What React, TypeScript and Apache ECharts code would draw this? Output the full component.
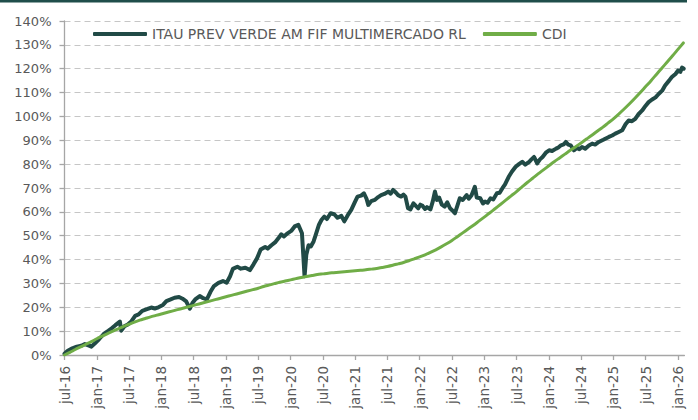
import React, { useEffect, useRef } from "react";
import * as echarts from "echarts";

const xTickLabels = [
  "jul-16", "jan-17", "jul-17", "jan-18", "jul-18", "jan-19", "jul-19", "jan-20", "jul-20", "jan-21",
  "jul-21", "jan-22", "jul-22", "jan-23", "jul-23", "jan-24", "jul-24", "jan-25", "jul-25", "jan-26",
];

const seriesNames = ["ITAU PREV VERDE AM FIF MULTIMERCADO RL", "CDI"];

const fundDates = [
  "2016-07-01", "2016-07-20", "2016-08-15", "2016-09-10", "2016-10-05", "2016-10-25", "2016-11-15", "2016-12-01", "2016-12-20",
  "2017-01-15", "2017-02-10", "2017-03-05", "2017-03-25", "2017-04-15", "2017-05-10", "2017-05-18", "2017-06-05", "2017-06-25",
  "2017-07-15", "2017-08-05", "2017-08-25", "2017-09-15", "2017-10-15", "2017-11-05", "2017-11-25", "2017-12-15",
  "2018-01-10", "2018-01-30", "2018-02-20", "2018-03-15", "2018-04-10", "2018-04-30", "2018-05-20", "2018-06-10", "2018-06-25",
  "2018-07-10", "2018-08-05", "2018-08-25", "2018-09-15", "2018-10-05", "2018-10-25", "2018-11-20", "2018-12-15",
  "2019-01-05", "2019-01-25", "2019-02-10", "2019-03-05", "2019-03-25", "2019-04-20", "2019-05-15", "2019-06-05", "2019-06-25",
  "2019-07-15", "2019-08-10", "2019-08-25", "2019-09-15", "2019-10-05", "2019-10-25", "2019-11-10", "2019-11-25", "2019-12-15",
  "2020-01-05", "2020-01-25", "2020-02-15", "2020-03-05", "2020-03-20", "2020-03-30", "2020-04-12", "2020-04-25", "2020-05-10",
  "2020-05-25", "2020-06-10", "2020-06-25", "2020-07-10", "2020-07-25", "2020-08-15", "2020-09-05", "2020-09-24", "2020-10-15",
  "2020-11-01", "2020-11-20", "2020-12-10", "2020-12-30",
  "2021-01-15", "2021-02-05", "2021-02-21", "2021-03-05", "2021-03-15", "2021-04-01", "2021-04-21", "2021-05-10", "2021-05-27",
  "2021-06-15", "2021-07-06", "2021-07-20", "2021-08-03", "2021-08-20", "2021-09-01", "2021-09-18", "2021-10-01", "2021-10-12",
  "2021-10-27", "2021-11-10", "2021-11-27", "2021-12-10", "2021-12-24",
  "2022-01-05", "2022-01-18", "2022-02-01", "2022-02-12", "2022-03-01", "2022-03-15", "2022-03-27", "2022-04-08", "2022-04-20",
  "2022-05-05", "2022-05-21", "2022-06-05", "2022-06-21", "2022-07-05", "2022-07-18", "2022-08-01", "2022-08-15", "2022-09-01",
  "2022-09-24", "2022-10-05", "2022-10-21", "2022-11-09", "2022-11-20", "2022-12-09", "2022-12-25",
  "2023-01-06", "2023-01-20", "2023-02-06", "2023-02-22", "2023-03-12", "2023-03-28", "2023-04-12", "2023-04-28", "2023-05-18",
  "2023-06-05", "2023-06-27", "2023-07-15", "2023-08-03", "2023-08-20", "2023-09-12", "2023-09-25", "2023-10-09", "2023-10-27",
  "2023-11-12", "2023-11-27", "2023-12-15",
  "2024-01-03", "2024-01-20", "2024-02-12", "2024-02-25", "2024-03-09", "2024-03-25", "2024-04-06", "2024-04-20", "2024-05-03",
  "2024-05-21", "2024-06-08", "2024-06-22", "2024-07-06", "2024-07-25", "2024-08-15", "2024-09-03", "2024-09-20", "2024-10-10",
  "2024-11-05", "2024-12-06", "2024-12-25",
  "2025-01-12", "2025-02-01", "2025-02-21", "2025-03-10", "2025-03-27", "2025-04-15", "2025-05-03", "2025-05-20", "2025-06-12",
  "2025-07-01", "2025-07-18", "2025-08-05", "2025-08-27", "2025-09-15", "2025-10-03", "2025-10-20", "2025-11-12", "2025-11-28",
  "2025-12-18", "2026-01-01", "2026-01-15", "2026-01-25", "2026-02-03",
];

const fundValues = [
  0.5, 1.8, 2.8, 3.5, 3.9, 4.6, 4.0, 3.5, 4.8,
  6.7, 8.8, 10.1, 11.2, 12.5, 14.0, 10.2, 12.0, 12.8,
  14.2, 16.4, 17.0, 18.5, 19.3, 19.9, 19.5, 20.0,
  21.0, 22.6, 23.2, 24.0, 24.3, 23.6, 22.5, 19.4, 21.8,
  23.3, 24.7, 23.8, 23.3, 26.5, 28.9, 30.2, 31.0,
  30.3, 33.0, 36.1, 37.0, 36.2, 36.6, 35.6, 38.0, 40.5,
  44.2, 45.3, 44.6, 46.0, 47.2, 49.0, 50.6, 49.7, 51.0,
  52.0, 53.9, 54.6, 51.0, 33.0, 42.0, 46.0, 45.5, 47.6,
  51.0, 54.6, 56.7, 58.0, 57.0, 59.4, 59.0, 57.5, 58.3,
  56.0, 58.5, 60.8, 64.0,
  66.4, 66.8, 67.8, 65.5, 62.9, 64.5, 65.0, 66.2, 67.0,
  67.5, 68.5, 67.6, 69.2, 68.0, 67.0, 66.4, 67.2, 66.4,
  61.5, 61.0, 63.6, 62.5, 61.5,
  63.0, 62.5, 61.2, 62.0, 61.0, 64.5, 68.5, 65.0, 66.0,
  63.0, 62.2, 64.0, 61.5, 60.5, 59.4, 62.5, 65.7, 65.0,
  67.0, 65.5, 67.0, 70.5, 66.0, 65.7, 63.5,
  64.3, 63.8, 65.7, 65.2, 67.8, 68.0, 69.8, 71.5, 74.7,
  76.8, 78.9, 80.0, 81.0, 79.8, 81.0, 82.0, 83.0, 80.3,
  82.0, 83.0, 84.8,
  85.8, 85.5, 86.5, 87.0, 87.9, 88.3, 89.3, 88.2, 87.9,
  85.8, 86.8, 86.3, 87.2, 86.5, 87.8, 88.6, 88.2, 89.3,
  90.2, 91.4, 92.0,
  92.8, 93.5, 94.2, 96.8, 98.3, 98.0, 99.0, 100.8, 102.5,
  104.5, 106.0, 107.0, 108.0, 109.5, 110.8, 113.0, 115.0, 116.5,
  117.8, 119.2, 118.7, 120.5, 120.0,
];

// CDI, one value per month from jul-16 to feb-26
const cdiStartMonth = "2016-07-01";
const cdiValues = [
  0, 1.1, 2.3, 3.4, 4.5, 5.6,
  6.8, 7.9, 9.0, 10.0, 11.0, 12.0, 12.9, 13.8, 14.6, 15.3, 16.0, 16.6,
  17.2, 17.8, 18.4, 19.0, 19.6, 20.2, 20.8, 21.4, 22.0, 22.6, 23.2, 23.8,
  24.4, 25.0, 25.6, 26.2, 26.8, 27.4, 28.0, 28.7, 29.3, 29.9, 30.5, 31.0,
  31.5, 32.0, 32.5, 32.9, 33.3, 33.7, 34.0, 34.3, 34.5, 34.7, 34.9, 35.1,
  35.3, 35.5, 35.7, 36.0, 36.3, 36.7, 37.1, 37.6, 38.2, 38.8, 39.5, 40.3,
  41.1, 42.0, 43.0, 44.1, 45.3, 46.6, 48.0, 49.6, 51.2, 52.8, 54.4, 56.1,
  57.8, 59.5, 61.3, 63.1, 64.9, 66.7, 68.5, 70.4, 72.3, 74.1, 75.9, 77.6,
  79.3, 81.0, 82.6, 84.2, 85.8, 87.3, 88.9, 90.5, 92.1, 93.8, 95.4, 97.2,
  99.0, 101.0, 103.1, 105.3, 107.6, 110.0, 112.5, 115.0, 117.6, 120.2, 122.8, 125.4,
  128.1, 130.8,
];

const FONT = "'DejaVu Sans', sans-serif";
const TEXT_COLOR = "#595959";
const AXIS_COLOR = "#a6a6a6";

// months elapsed since jul-16 (axis coordinate)
function monthOffset(d: string): number {
  const [y, m, dd] = d.split("-").map(Number);
  return (y - 2016) * 12 + (m - 7) + (dd - 1) / 31;
}

export default function App() {
  const ref = useRef<HTMLDivElement>(null);

  useEffect(() => {
    const chart = echarts.init(ref.current!, null, { renderer: "svg" });
    const start = monthOffset(cdiStartMonth);
    const tickVals = xTickLabels.map((_, i) => start + i * 6);
    const fundData = fundDates.map((d, i) => [monthOffset(d), fundValues[i]]);
    const cdiData = cdiValues.map((v, i) => [start + i, v]);

    chart.setOption({
      animation: false,
      backgroundColor: "#ffffff",
      textStyle: { fontFamily: FONT },
      graphic: [
        { type: "rect", left: 0, top: 0, shape: { width: 687, height: 2.5 }, style: { fill: "#1f4e4a" } },
      ],
      legend: {
        left: 88,
        top: 22,
        itemWidth: 54,
        itemHeight: 4,
        itemGap: 17,
        icon: "roundRect",
        textStyle: { color: TEXT_COLOR, fontSize: 14, fontFamily: FONT },
        data: seriesNames,
      },
      grid: { left: 64.5, right: 13.6, top: 21, bottom: 65, containLabel: false },
      xAxis: {
        type: "value",
        min: 0,
        max: 115.2,
        axisLine: { show: true, lineStyle: { color: AXIS_COLOR, width: 1.3 } },
        axisTick: { show: true, length: 5, lineStyle: { color: AXIS_COLOR, width: 1.3 }, customValues: tickVals },
        axisLabel: {
          customValues: tickVals,
          rotate: 90,
          margin: 11,
          color: TEXT_COLOR,
          fontSize: 13.5,
          fontFamily: FONT,
          formatter: (v: number) => xTickLabels[Math.round(v / 6)] ?? "",
        },
        splitLine: { show: false },
      },
      yAxis: {
        type: "value",
        min: 0,
        max: 140,
        interval: 10,
        axisLine: { show: true, lineStyle: { color: AXIS_COLOR, width: 1.3 } },
        axisTick: { show: true, length: 5, lineStyle: { color: AXIS_COLOR, width: 1.3 } },
        axisLabel: { formatter: "{value}%", margin: 13, color: TEXT_COLOR, fontSize: 13, fontFamily: FONT },
        splitLine: { show: true, lineStyle: { color: "#c6c6c6", type: [6, 4], width: 1 } },
      },
      series: [
        {
          name: seriesNames[0],
          type: "line",
          data: fundData,
          symbol: "none",
          lineStyle: { color: "#214a46", width: 4, cap: "round", join: "round" },
          itemStyle: { color: "#214a46" },
          z: 2,
        },
        {
          name: seriesNames[1],
          type: "line",
          data: cdiData,
          symbol: "none",
          smooth: 0.3,
          lineStyle: { color: "#70ad47", width: 3, cap: "round" },
          itemStyle: { color: "#70ad47" },
          z: 3,
        },
      ],
    });
    return () => chart.dispose();
  }, []);

  return (
    <div
      ref={ref}
      style={{ position: "fixed", left: 0, top: 0, width: 698, height: 420, background: "#ffffff" }}
    />
  );
}
